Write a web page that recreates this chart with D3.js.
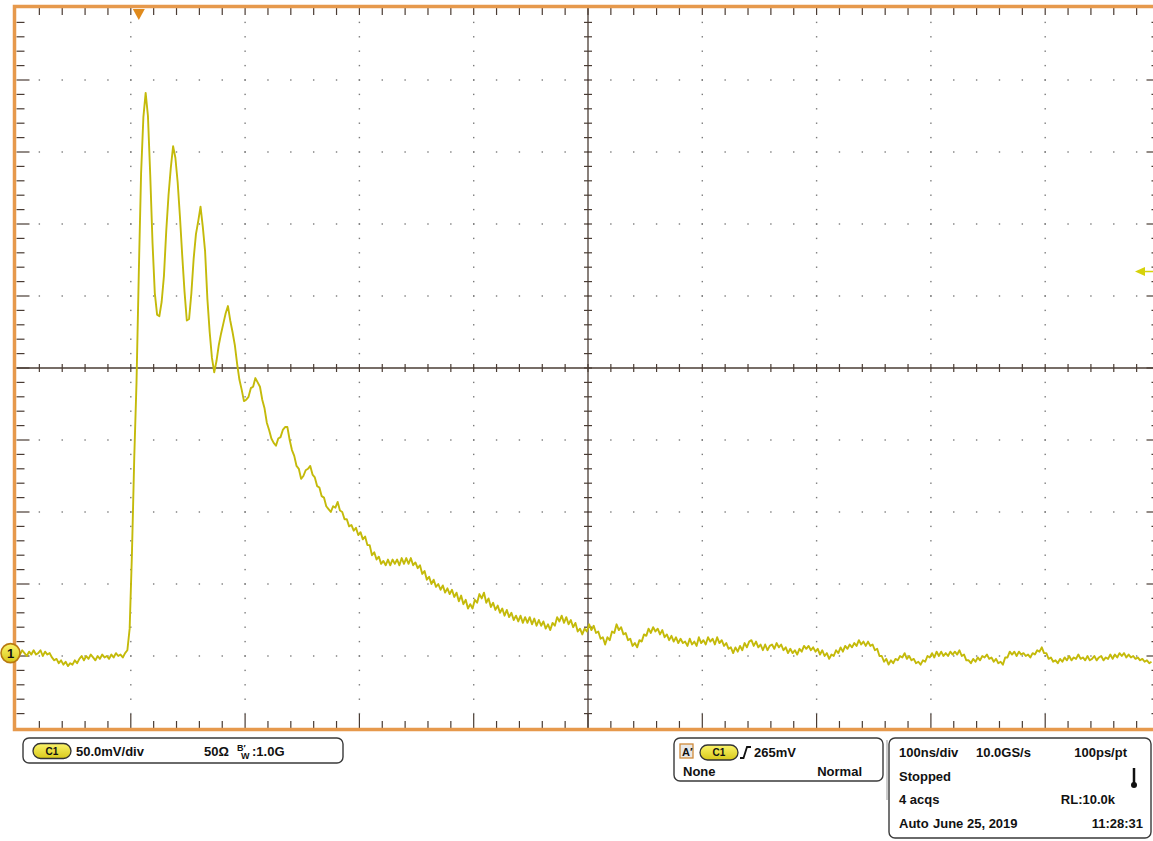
<!DOCTYPE html>
<html>
<head>
<meta charset="utf-8">
<script src="https://cdn.jsdelivr.net/npm/d3@7"></script>
<style>
  body { margin: 0; background: #fff; }
  svg { display: block; font-family: "Liberation Sans", Arial, sans-serif; }
</style>
</head>
<body>
<svg id="scope" width="1153" height="841"></svg>
<script>
// ---- Channel 1 record (mV), sampled every 2 ns, time relative to trigger ----
const sampleStartNs = -106;
const sampleIntervalNs = 2;
const ch1mV = [
  1, -1, 2, 0, -2, 1, -1, 2, -1, 0,
  2, -2, 1, -1, 0, -3, -5, -4, -7, -5,
  -8, -6, -9, -7, -8, -5, -7, -4, -2, -5,
  -2, -4, -1, -3, -5, -2, -4, -1, -3, -2,
  -4, -1, -3, 0, -2, -1, -3, 0, 2, 17,
  69, 135, 188, 264, 333, 372, 389, 373, 332, 285,
  250, 235, 234, 244, 262, 293, 318, 337, 352, 344,
  327, 303, 276, 251, 231, 232, 250, 274, 291, 300,
  310, 296, 279, 246, 223, 205, 195, 203, 214, 222,
  229, 236, 241, 231, 223, 214, 201, 190, 183, 175,
  176, 178, 184, 185, 191, 188, 185, 176, 170, 160,
  155, 149, 146, 144, 149, 150, 155, 157, 157, 148,
  141, 137, 130, 128, 121, 123, 127, 128, 130, 124,
  122, 116, 115, 109, 108, 102, 100, 98, 102, 101,
  105, 99, 98, 93, 93, 88, 89, 85, 87, 82,
  84, 79, 81, 75, 75, 68, 70, 65, 67, 62,
  64, 61, 65, 61, 65, 62, 65, 61, 66, 62,
  66, 62, 66, 61, 63, 59, 61, 55, 57, 51,
  53, 48, 51, 46, 48, 44, 47, 42, 45, 41,
  44, 39, 42, 36, 40, 34, 37, 31, 34, 31,
  37, 35, 41, 38, 42, 35, 38, 32, 35, 30,
  33, 28, 31, 26, 30, 25, 28, 23, 26, 22,
  26, 21, 25, 21, 25, 20, 24, 19, 23, 19,
  22, 17, 20, 16, 21, 19, 25, 22, 26, 21,
  25, 20, 23, 18, 21, 15, 17, 13, 17, 15,
  20, 16, 19, 14, 15, 10, 11, 6, 11, 9,
  15, 14, 20, 16, 18, 13, 14, 9, 10, 5,
  7, 4, 9, 8, 13, 12, 17, 14, 18, 15,
  17, 13, 16, 11, 13, 9, 12, 8, 11, 7,
  10, 7, 8, 5, 10, 6, 8, 5, 11, 7,
  9, 6, 11, 8, 10, 6, 11, 7, 9, 5,
  7, 3, 4, 0, 4, 1, 5, 2, 7, 4,
  8, 9, 5, 8, 4, 6, 2, 6, 2, 5,
  6, 3, 7, 4, 6, 2, 4, 0, 3, 0,
  2, -1, 3, 1, 5, 3, 5, 2, 4, 1,
  3, -1, 2, -2, 0, -4, -1, -2, 2, 0,
  4, 1, 5, 3, 6, 4, 7, 5, 9, 6,
  8, 5, 8, 5, 6, 2, 3, -2, -2, -6,
  -4, -8, -5, -7, -4, -5, -2, -3, 0, -4,
  -2, -5, -4, -7, -6, -8, -5, -6, -2, -3,
  0, -3, 1, -2, 1, -2, 0, -2, 1, -1,
  1, -1, 2, -2, -1, -5, -5, -7, -4, -6,
  -3, -5, -2, -3, -1, -4, -3, -6, -4, -7,
  -6, -8, -3, -3, 1, -1, 1, -2, 1, -1,
  0, -2, -1, -3, 0, -1, 2, 1, 4, 0,
  0, -4, -3, -6, -5, -7, -4, -6, -3, -5,
  -2, -5, -3, -4, -1, -4, -3, -5, -2, -5,
  -4, -2, -5, -3, -2, -5, -3, -4, -1, -4,
  -1, -3, 0, -2, 0, -3, -1, -3, -2, -4,
  -3, -5, -4, -6, -5, -7, -6
];

// ---- Acquisition settings ----
const timeDomainNs = [-107, 893];   // 10 divisions at 100 ns/div
const mVPerDiv = 50;
const ch1PositionDiv = -3.96;       // ground level below screen centre
const triggerLevelmV = 265;
const horizDivs = 10;
const vertDivs = 10;
const minorPerDiv = 5;

// ---- Readout texts ----
const ch1Readout = ["50.0mV/div", "50\u03A9"];
const bwReadout = ":1.0G";
const triggerReadout = ["265mV", "None", "Normal"];
const timebaseReadout = [
  ["100ns/div", "10.0GS/s", "100ps/pt"],
  ["Stopped", ""],
  ["4 acqs", "RL:10.0k"],
  ["Auto", "June 25, 2019", "11:28:31"]
];

// ---- Layout ----
const svg = d3.select("#scope");
const plot = { left: 16.5, top: 8, width: 1143, height: 720 };
const x = d3.scaleLinear().domain(timeDomainNs).range([plot.left, plot.left + plot.width]);
const yDomain = [(-vertDivs / 2 - ch1PositionDiv) * mVPerDiv, (vertDivs / 2 - ch1PositionDiv) * mVPerDiv];
const y = d3.scaleLinear().domain(yDomain).range([plot.top + plot.height, plot.top]);
const xDiv = d3.scaleLinear().domain([0, horizDivs]).range([plot.left, plot.left + plot.width]);
const yDiv = d3.scaleLinear().domain([-vertDivs / 2, vertDivs / 2]).range([plot.top + plot.height, plot.top]);

const gridColor = "#7a7a7a";
const axisColor = "#4a3c34";
const borderColor = "#e6994c";
const traceColor = "#c4ba0a";

const minorX = d3.range(0, horizDivs * minorPerDiv + 1).map(i => i / minorPerDiv);
const minorY = d3.range(0, vertDivs * minorPerDiv + 1).map(i => -vertDivs / 2 + i / minorPerDiv);

// Dotted graticule
const grid = svg.append("g");
for (let k = 1; k < horizDivs; k++) {
  if (k === horizDivs / 2) continue;
  minorY.slice(1, -1).forEach(v => {
    grid.append("rect").attr("x", xDiv(k) - 0.7).attr("y", yDiv(v) - 0.7)
      .attr("width", 1.4).attr("height", 1.4).attr("fill", gridColor);
  });
}
for (let j = -vertDivs / 2 + 1; j < vertDivs / 2; j++) {
  if (j === 0) continue;
  minorX.slice(1, -1).forEach(h => {
    grid.append("rect").attr("x", xDiv(h) - 0.7).attr("y", yDiv(j) - 0.7)
      .attr("width", 1.4).attr("height", 1.4).attr("fill", gridColor);
  });
}

// Centre cross with minor ticks
const cx = xDiv(horizDivs / 2), cy = yDiv(0);
const axes = svg.append("g").attr("stroke", axisColor);
axes.append("line").attr("x1", plot.left).attr("x2", plot.left + plot.width)
  .attr("y1", cy).attr("y2", cy).attr("stroke-width", 1.3);
axes.append("line").attr("x1", cx).attr("x2", cx)
  .attr("y1", plot.top).attr("y2", plot.top + plot.height).attr("stroke-width", 1.3);
minorX.slice(1, -1).forEach(h => {
  axes.append("line").attr("x1", xDiv(h)).attr("x2", xDiv(h))
    .attr("y1", cy - 4).attr("y2", cy + 4).attr("stroke-width", 1.2);
});
minorY.slice(1, -1).forEach(v => {
  axes.append("line").attr("x1", cx - 4).attr("x2", cx + 4)
    .attr("y1", yDiv(v)).attr("y2", yDiv(v)).attr("stroke-width", 1.2);
});

// Edge ticks
minorX.slice(1, -1).forEach(h => {
  const major = Math.abs(h - Math.round(h)) < 1e-6;
  axes.append("line").attr("x1", xDiv(h)).attr("x2", xDiv(h))
    .attr("y1", plot.top).attr("y2", plot.top + 7).attr("stroke-width", 1.2);
  axes.append("line").attr("x1", xDiv(h)).attr("x2", xDiv(h))
    .attr("y1", plot.top + plot.height - (major ? 14 : 7)).attr("y2", plot.top + plot.height)
    .attr("stroke-width", 1.2);
});
minorY.slice(1, -1).forEach(v => {
  const major = Math.abs(v - Math.round(v)) < 1e-6;
  axes.append("line").attr("x1", plot.left).attr("x2", plot.left + (major ? 13 : 8))
    .attr("y1", yDiv(v)).attr("y2", yDiv(v)).attr("stroke-width", 1.2);
  axes.append("line").attr("x1", plot.left + plot.width - (major ? 13 : 8)).attr("x2", plot.left + plot.width)
    .attr("y1", yDiv(v)).attr("y2", yDiv(v)).attr("stroke-width", 1.2);
});

// Channel 1 trace
svg.append("clipPath").attr("id", "plotClip").append("rect")
  .attr("x", plot.left).attr("y", plot.top).attr("width", plot.width).attr("height", plot.height);
const samples = ch1mV.map((v, i) => ({ t: sampleStartNs + i * sampleIntervalNs, v }));
svg.append("path")
  .datum(samples)
  .attr("clip-path", "url(#plotClip)")
  .attr("fill", "none")
  .attr("stroke", traceColor)
  .attr("stroke-width", 1.9)
  .attr("stroke-linejoin", "round")
  .attr("d", d3.line().x(d => x(d.t)).y(d => y(d.v)));

// Screen border
svg.append("rect")
  .attr("x", plot.left - 2).attr("y", plot.top - 1.5)
  .attr("width", plot.width + 4).attr("height", plot.height + 3)
  .attr("fill", "none").attr("stroke", borderColor).attr("stroke-width", 3.5);

// Trigger position marker
const tx = x(0);
svg.append("path")
  .attr("d", `M${tx - 6},${plot.top + 1} L${tx + 6},${plot.top + 1} L${tx},${plot.top + 12} Z`)
  .attr("fill", "#e08a1c");

// Trigger level marker
const ty = y(triggerLevelmV);
svg.append("line").attr("x1", 1142).attr("x2", 1153).attr("y1", ty).attr("y2", ty)
  .attr("stroke", "#d6d20a").attr("stroke-width", 1.5);
svg.append("path")
  .attr("d", `M1135,${ty} L1145,${ty - 4.5} L1145,${ty + 4.5} Z`)
  .attr("fill", "#d6d20a");

// Channel 1 ground marker
const gy = y(0);
const defs = svg.append("defs");
const yg = defs.append("linearGradient").attr("id", "yellowFill").attr("x1", 0).attr("x2", 0).attr("y1", 0).attr("y2", 1);
yg.append("stop").attr("offset", "0%").attr("stop-color", "#fbf46a");
yg.append("stop").attr("offset", "100%").attr("stop-color", "#d8c81a");
svg.append("path")
  .attr("d", `M18,${gy} L12,${gy - 7} L12,${gy + 7} Z`)
  .attr("fill", "#b87a10");
svg.append("circle").attr("cx", 10.5).attr("cy", gy).attr("r", 9.5)
  .attr("fill", "url(#yellowFill)").attr("stroke", "#b87a10").attr("stroke-width", 1.6);
svg.append("text").attr("x", 10.5).attr("y", gy + 4.5).attr("text-anchor", "middle")
  .attr("font-size", 13).attr("font-weight", "bold").attr("fill", "#111").text("1");

// ---- Readout panels ----
const panel = svg.append("g");
function box(x0, y0, w, h) {
  panel.append("rect").attr("x", x0).attr("y", y0).attr("width", w).attr("height", h)
    .attr("rx", 6).attr("fill", "#fff").attr("stroke", "#3a3a3a").attr("stroke-width", 1.4);
}
function label(txt, x0, y0, anchor) {
  return panel.append("text").attr("x", x0).attr("y", y0)
    .attr("text-anchor", anchor || "start")
    .attr("font-size", 13).attr("font-weight", "bold").attr("fill", "#111").text(txt);
}
function pill(x0, y0) {
  panel.append("rect").attr("x", x0).attr("y", y0).attr("width", 38).attr("height", 15)
    .attr("rx", 7.5).attr("fill", "url(#yellowFill)").attr("stroke", "#333").attr("stroke-width", 1.3);
  panel.append("text").attr("x", x0 + 19).attr("y", y0 + 11).attr("text-anchor", "middle")
    .attr("font-size", 10).attr("font-weight", "bold").attr("fill", "#111").text("C1");
}

// Vertical settings
box(23, 738, 320, 25);
pill(33, 743.5);
label(ch1Readout[0], 76, 756);
label(ch1Readout[1], 204, 756);
const bw = panel.append("text").attr("y", 756).attr("font-weight", "bold").attr("fill", "#111");
bw.append("tspan").attr("x", 237).attr("y", 751).attr("font-size", 9).text("B\u2032");
bw.append("tspan").attr("x", 241).attr("y", 759).attr("font-size", 9).text("W");
bw.append("tspan").attr("x", 252).attr("y", 756).attr("font-size", 13).text(bwReadout);

// Trigger settings
box(674, 738, 209, 43);
panel.append("rect").attr("x", 680).attr("y", 744).attr("width", 13).attr("height", 14)
  .attr("fill", "#e8e8e8").attr("stroke", "#d08a3a").attr("stroke-width", 1.3);
panel.append("text").attr("x", 682).attr("y", 756).attr("font-size", 11).attr("font-weight", "bold")
  .attr("fill", "#111").text("A\u2032");
pill(700, 745);
panel.append("path").attr("d", "M740,758 L743.5,758 L747,747 L751,747")
  .attr("fill", "none").attr("stroke", "#111").attr("stroke-width", 1.8);
label(triggerReadout[0], 754, 757);
label(triggerReadout[1], 683, 776);
label(triggerReadout[2], 862, 776, "end");

// Timebase / acquisition
panel.append("line").attr("x1", 887).attr("x2", 887).attr("y1", 740).attr("y2", 800)
  .attr("stroke", "#bbb").attr("stroke-width", 1.5);
box(889, 738, 262, 100);
label(timebaseReadout[0][0], 899, 757);
label(timebaseReadout[0][1], 976, 757);
label(timebaseReadout[0][2], 1127, 757, "end");
label(timebaseReadout[1][0], 899, 781);
panel.append("line").attr("x1", 1134).attr("x2", 1134).attr("y1", 768).attr("y2", 784)
  .attr("stroke", "#111").attr("stroke-width", 2.5);
panel.append("circle").attr("cx", 1134).attr("cy", 785).attr("r", 3).attr("fill", "#111");
label(timebaseReadout[2][0], 899, 804);
label(timebaseReadout[2][1], 1115, 804, "end");
label(timebaseReadout[3][0], 899, 828);
label(timebaseReadout[3][1], 933, 828);
label(timebaseReadout[3][2], 1143, 828, "end");
</script>
</body>
</html>
